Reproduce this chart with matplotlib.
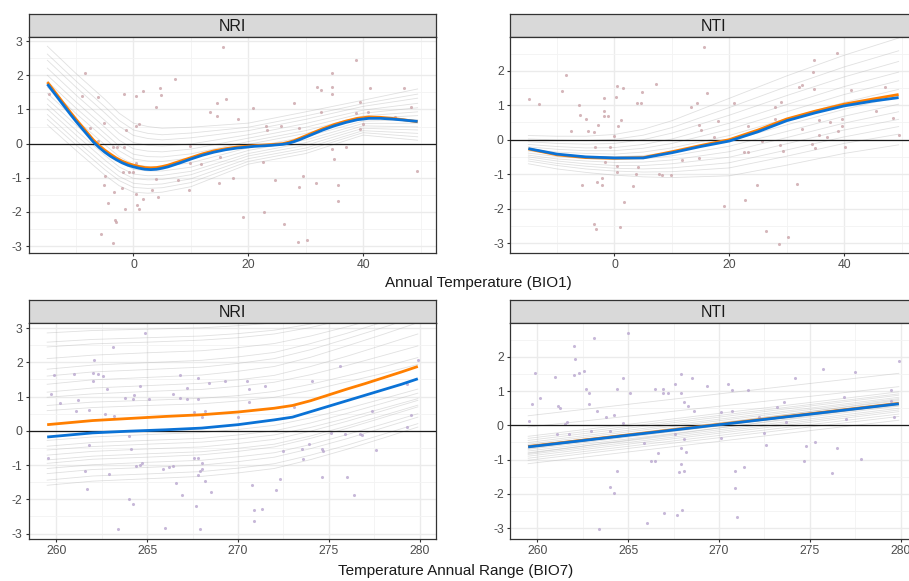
import matplotlib
matplotlib.use("Agg")
import matplotlib.pyplot as plt

plt.rcParams["font.family"] = ["Liberation Sans", "DejaVu Sans"]

# ---- scatter points (x, y) ----
nri_bio1_pts = [
    (-14.8, 1.45), (-8.4, 2.07), (-9.0, 1.38), (-7.5, 0.46), (-6.2, 1.36), (-6.1, 0.08),
    (-5.1, 0.59), (-4.9, -0.94), (-5.2, -1.21), (-4.5, -1.75), (-5.7, -2.65), (-3.5, -2.9),
    (-3.2, -2.24), (-3.1, -2.29), (-3.4, -1.42), (-3.5, -0.1), (-2.8, -0.1), (-1.7, 1.46),
    (-1.3, 0.39), (-1.7, -0.09), (-2.0, -1.31), (-1.8, -0.82), (-1.5, -1.9), (-1.7, -0.55),
    (-0.7, -0.82), (0.0, -0.82), (0.4, 0.51), (0.4, 1.39), (1.0, 0.56), (1.6, 1.54),
    (0.5, -0.58), (0.4, -1.46), (0.7, -1.8), (1.0, -1.91), (1.7, -1.62), (3.9, 1.07),
    (4.6, 1.62), (4.8, 1.42), (3.9, -1.04), (4.2, -1.56), (3.3, -1.36), (7.3, 1.89),
    (7.8, -1.07), (9.9, -0.06), (9.7, -1.37), (9.8, -0.56), (11.8, -0.6), (13.4, 0.94),
    (14.5, 0.81), (14.6, 1.18), (16.2, 1.3), (15.6, 2.83), (15.0, -0.4), (14.9, -1.14),
    (17.3, -1.02), (18.2, 0.71), (19.0, -2.14), (20.9, 1.05), (22.7, -2.01), (22.5, -0.55),
    (23.1, 0.52), (23.2, 0.39), (24.7, -1.05), (25.7, 0.53), (26.3, -2.34), (27.9, 1.2),
    (28.9, 0.47), (28.9, -1.28), (28.6, -2.89), (30.2, -2.82), (29.5, -0.94), (31.9, 1.66),
    (32.6, 1.56), (32.6, 0.92), (31.8, -1.14), (34.5, 2.07), (34.6, 1.67), (34.6, 1.46),
    (34.5, -0.16), (35.0, -0.44), (35.7, -1.2), (35.7, -1.69), (37.0, -0.1), (38.8, 2.44),
    (38.7, 0.91), (39.5, 1.23), (39.5, 0.42), (40.0, 0.56), (40.9, 0.93), (41.2, 1.64),
    (47.1, 1.64), (48.3, 1.08), (49.4, -0.79), (45.5, 0.79),
]
nti_bio1_pts = [
    (-14.9, 1.18), (-13.2, 1.04), (-9.1, 1.41), (-8.5, 1.87), (-7.5, 0.24), (-6.2, 1.02),
    (-6.0, 0.71), (-5.7, -1.31), (-5.0, 0.59), (-4.6, 0.24), (-3.6, 0.22), (-2.8, 0.44),
    (-3.4, -0.21), (-3.1, -1.23), (-2.1, -1.33), (-2.1, -1.11), (-1.9, 1.21), (-1.8, 0.83),
    (-1.8, 0.7), (-1.2, 0.7), (-1.6, -0.66), (-0.8, -0.21), (-3.6, -2.46), (-3.3, -2.59),
    (-0.1, 0.1), (0.2, 1.23), (0.4, 1.57), (0.5, -0.76), (0.5, -0.95), (0.6, 0.4),
    (1.1, 0.57), (1.5, 1.5), (0.9, -2.54), (1.7, -1.81), (3.3, -1.35), (3.8, -1.01),
    (4.1, -0.79), (3.9, 1.06), (4.6, 1.06), (4.8, 1.37), (7.2, 1.63), (7.8, -1.01),
    (8.2, -1.04), (9.8, -1.02), (11.8, -0.6), (13.4, 0.94), (14.4, 1.05), (14.7, 0.43),
    (15.1, 0.28), (14.8, -0.53), (15.6, 2.7), (16.2, 1.36), (17.4, 0.08), (18.1, 0.55),
    (19.1, -1.93), (20.9, 1.06), (22.6, -0.35), (23.2, 0.41), (23.2, -0.35), (22.7, -1.76),
    (24.8, -1.33), (25.7, -0.03), (26.4, -2.65), (27.9, 0.94), (27.9, 0.61), (29.0, 1.08),
    (28.9, -0.15), (29.4, -0.33), (28.6, -3.02), (30.2, -2.83), (31.8, -1.3), (32.1, 1.53),
    (32.6, 1.59), (32.6, 0.32), (34.5, 1.95), (34.7, 2.31), (34.7, 1.47), (34.4, -0.14),
    (35.0, -0.23), (35.7, 0.57), (35.7, 0.14), (37.0, 0.08), (37.6, 0.52), (38.8, 2.53),
    (39.0, 0.25), (39.6, 0.59), (39.6, 0.4), (40.1, -0.22), (41.2, 1.44), (45.5, 0.82),
    (47.1, 1.52), (48.5, 0.64), (49.6, 0.13),
]
nri_bio7_pts = [
    (259.56, -0.78), (259.7, 1.08), (259.9, 1.64), (260.2, 0.8), (261.0, 1.67), (261.1, 0.59),
    (261.2, 0.91), (261.6, -1.18), (261.7, -1.69), (261.8, -0.41), (261.8, 0.62), (262.0, 1.69),
    (262.0, 1.47), (262.1, 2.08), (262.3, 1.67), (262.6, 1.59), (262.7, 0.48), (262.8, 1.22),
    (262.9, -1.26), (263.1, 2.45), (263.2, 0.43), (263.4, -2.86), (263.8, 0.96), (264.0, -0.15),
    (264.0, -2.0), (264.1, -0.54), (264.2, 0.94), (264.2, -2.13), (264.3, 1.05), (264.4, -1.03),
    (264.6, 1.31), (264.6, -0.99), (264.7, -0.94), (264.9, 2.85), (265.1, 0.94), (265.9, -1.11),
    (266.0, -2.83), (266.2, -1.05), (266.4, 1.08), (266.4, -1.03), (266.6, -1.53), (266.8, 0.96),
    (266.8, 1.64), (266.9, -1.88), (267.2, 1.25), (267.2, 0.93), (267.6, 0.54), (267.6, -0.79),
    (267.7, -2.2), (267.8, -1.3), (267.8, 1.55), (267.8, 0.94), (267.8, -0.79), (267.9, -1.18),
    (267.9, -2.88), (268.0, 0.4), (268.0, -1.11), (268.0, -0.93), (268.2, -1.46), (268.2, 0.59),
    (268.4, 1.4), (268.5, -1.79), (269.3, 1.47), (270.0, 0.4), (270.5, 1.47), (270.6, 1.21),
    (270.6, 0.83), (270.8, -1.59), (270.9, -2.62), (270.9, -2.32), (271.3, -2.27), (271.5, 1.3),
    (272.1, -1.74), (272.3, -1.41), (272.5, -0.59), (273.1, 0.71), (273.5, -0.52), (273.6, -0.81),
    (273.9, -0.39), (274.1, 1.45), (274.6, -0.52), (274.6, -1.35), (274.7, -0.6), (275.1, -0.06),
    (275.6, 1.9), (275.9, -0.09), (276.0, -1.35), (276.4, -1.87), (276.7, -0.08), (276.8, -0.11),
    (277.4, 0.58), (277.6, -0.55), (279.3, 0.11), (279.5, 0.45), (279.9, 2.08), (279.3, 1.36),
]
nti_bio7_pts = [
    (259.54, 0.13), (259.72, 0.63), (259.9, 1.52), (260.15, 0.81), (260.98, 1.42), (261.1, -0.24),
    (261.16, 0.56), (261.27, 0.5), (261.5, 0.03), (261.64, 0.11), (261.77, -0.26), (262.0, 2.32),
    (262.0, 1.48), (262.08, 1.94), (262.3, 1.54), (262.6, 1.6), (262.7, 1.07), (262.86, 0.94),
    (262.86, 0.61), (262.94, -0.16), (263.1, 2.54), (263.27, 0.41), (263.4, -3.04), (263.8, 0.23),
    (264.0, -1.79), (264.0, -0.16), (264.2, 0.31), (264.2, -1.97), (264.4, 1.06), (264.4, -1.34),
    (264.7, 1.37), (264.7, 0.07), (264.97, 2.7), (265.1, 0.95), (265.9, -0.53), (266.06, -2.86),
    (266.25, -1.05), (266.5, 1.05), (266.5, -1.05), (266.67, -0.82), (266.9, 1.05), (266.9, 0.94),
    (267.0, -2.57), (267.2, 0.94), (267.6, 1.22), (267.6, -0.24), (267.7, -2.61), (267.8, -1.36),
    (267.9, 1.49), (267.9, 0.94), (267.9, -1.14), (267.96, -2.48), (267.9, -0.66), (268.05, 0.68),
    (268.05, -1.34), (268.1, -0.41), (268.2, -0.77), (268.3, 0.56), (268.5, 1.39), (268.6, 0.41),
    (269.36, 1.16), (270.1, 0.39), (270.1, -0.37), (270.5, 1.2), (270.7, 1.03), (270.7, 0.43),
    (270.9, -1.83), (270.9, -1.34), (271.0, -2.68), (271.4, -1.23), (271.6, 1.04), (272.2, 0.23),
    (272.5, -0.23), (272.6, -0.58), (273.2, 0.55), (273.6, 0.68), (273.7, 0.1), (274.2, 1.39),
    (274.7, -1.05), (274.8, -0.6), (275.27, -0.5), (275.7, 1.64), (276.2, -1.38), (276.5, -0.65),
    (276.9, 0.82), (277.0, 0.2), (277.5, 1.57), (277.8, -0.97), (279.45, 1.02), (279.45, 0.7),
    (279.65, 0.23), (279.9, 1.89),
]

# ---- mean curves (orange / blue) ----
nri_bio1_cx = [-15, -13, -11, -10, -9, -8, -7, -6, -5, -4, -3, -2, -1, 0, 1, 2, 3, 4, 5, 6,
               8, 10, 12, 14, 16, 18, 21, 24, 26, 27, 28, 29, 31, 33, 35, 37, 39, 41, 43,
               45, 47, 49.5]
nri_bio1_blue = [1.74, 1.3, 0.86, 0.65, 0.45, 0.25, 0.05, -0.11, -0.25, -0.37, -0.47, -0.56,
                 -0.63, -0.68, -0.72, -0.75, -0.76, -0.75, -0.72, -0.68, -0.57, -0.45, -0.34,
                 -0.25, -0.18, -0.13, -0.08, -0.05, -0.02, 0.01, 0.06, 0.12, 0.26, 0.4, 0.52,
                 0.62, 0.7, 0.74, 0.74, 0.72, 0.69, 0.65]
nri_bio1_orange = [1.8, 1.36, 0.92, 0.71, 0.51, 0.31, 0.11, -0.05, -0.19, -0.31, -0.42, -0.51,
                   -0.58, -0.63, -0.67, -0.7, -0.71, -0.7, -0.67, -0.63, -0.52, -0.41, -0.3,
                   -0.21, -0.15, -0.1, -0.06, -0.03, 0.0, 0.04, 0.09, 0.16, 0.3, 0.44, 0.56,
                   0.66, 0.74, 0.78, 0.77, 0.74, 0.7, 0.64]

nti_bio1_cx = [-15, -10, -5, 0, 5, 10, 15, 20, 25, 30, 35, 40, 45, 49.5]
nti_bio1_blue = [-0.26, -0.42, -0.5, -0.53, -0.53, -0.38, -0.2, -0.04, 0.23, 0.55, 0.78, 0.98, 1.12, 1.22]
nti_bio1_orange = [-0.27, -0.44, -0.52, -0.54, -0.52, -0.35, -0.17, 0.0, 0.28, 0.6, 0.83, 1.03, 1.18, 1.31]

nri_bio7_cx = [259.5, 262, 264, 266, 268, 270, 272, 273, 274, 275, 276, 277, 278, 279, 279.9]
nri_bio7_blue = [-0.18, -0.06, -0.01, 0.03, 0.08, 0.18, 0.32, 0.4, 0.56, 0.72, 0.88, 1.04, 1.2, 1.36, 1.52]
nri_bio7_orange = [0.18, 0.3, 0.36, 0.42, 0.47, 0.55, 0.66, 0.74, 0.88, 1.05, 1.22, 1.38, 1.55, 1.72, 1.88]

nti_bio7_cx = [259.5, 279.9]
nti_bio7_blue = [-0.63, 0.63]
nti_bio7_orange = [-0.62, 0.64]

# ---- grey posterior draws ----
nri_bio1_gx = [-15, -10, -5, -2.5, 0, 2.5, 5, 10, 20, 30, 40, 49.5]
nri_bio1_draws = [
    [2.85, 2.05, 1.3, 0.89, 0.6, 0.5, 0.45, 0.48, 0.6, 0.93, 1.27, 1.6],
    [2.62, 1.83, 1.08, 0.68, 0.4, 0.3, 0.26, 0.31, 0.48, 0.81, 1.17, 1.45],
    [2.44, 1.65, 0.9, 0.51, 0.24, 0.15, 0.11, 0.17, 0.38, 0.71, 1.09, 1.33],
    [2.21, 1.42, 0.68, 0.3, 0.03, -0.05, -0.07, -0.01, 0.26, 0.59, 0.98, 1.18],
    [2.0, 1.22, 0.48, 0.1, -0.15, -0.22, -0.24, -0.16, 0.16, 0.48, 0.89, 1.05],
    [1.82, 1.04, 0.3, -0.07, -0.31, -0.38, -0.39, -0.3, 0.06, 0.38, 0.81, 0.93],
    [1.65, 0.88, 0.15, -0.21, -0.45, -0.51, -0.52, -0.42, -0.02, 0.3, 0.74, 0.82],
    [1.47, 0.7, -0.03, -0.38, -0.61, -0.67, -0.67, -0.56, -0.12, 0.2, 0.66, 0.7],
    [1.31, 0.54, -0.19, -0.53, -0.75, -0.8, -0.8, -0.69, -0.2, 0.11, 0.59, 0.6],
    [1.15, 0.39, -0.34, -0.68, -0.89, -0.94, -0.93, -0.81, -0.29, 0.03, 0.52, 0.49],
    [1.01, 0.25, -0.48, -0.81, -1.02, -1.06, -1.05, -0.91, -0.36, -0.05, 0.45, 0.4],
    [0.85, 0.09, -0.63, -0.96, -1.16, -1.2, -1.18, -1.03, -0.44, -0.13, 0.38, 0.3],
    [0.71, -0.04, -0.76, -1.08, -1.28, -1.31, -1.29, -1.14, -0.52, -0.2, 0.32, 0.2],
    [0.55, -0.2, -0.92, -1.23, -1.42, -1.45, -1.42, -1.26, -0.6, -0.29, 0.25, 0.1],
]
nti_bio1_gx = [-15, -10, -5, 0, 5, 10, 20, 30, 40, 49.5]
nti_bio1_draws = [
    [0.12, 0.1, 0.1, 0.15, 0.3, 0.55, 1.2, 1.85, 2.45, 2.95],
    [0.02, -0.01, -0.03, 0.01, 0.13, 0.35, 0.93, 1.54, 2.11, 2.58],
    [-0.06, -0.11, -0.13, -0.11, 0.0, 0.19, 0.71, 1.28, 1.82, 2.27],
    [-0.14, -0.2, -0.24, -0.23, -0.14, 0.02, 0.48, 1.02, 1.54, 1.96],
    [-0.21, -0.28, -0.32, -0.32, -0.25, -0.11, 0.3, 0.81, 1.31, 1.71],
    [-0.27, -0.36, -0.4, -0.42, -0.36, -0.24, 0.12, 0.61, 1.08, 1.46],
    [-0.33, -0.42, -0.48, -0.5, -0.46, -0.36, -0.04, 0.43, 0.88, 1.25],
    [-0.39, -0.49, -0.55, -0.58, -0.56, -0.47, -0.19, 0.24, 0.68, 1.03],
    [-0.45, -0.56, -0.62, -0.66, -0.65, -0.59, -0.35, 0.06, 0.48, 0.81],
    [-0.5, -0.62, -0.7, -0.75, -0.75, -0.7, -0.51, -0.12, 0.28, 0.59],
    [-0.56, -0.69, -0.77, -0.83, -0.85, -0.82, -0.67, -0.3, 0.08, 0.38],
    [-0.62, -0.75, -0.85, -0.91, -0.94, -0.93, -0.82, -0.48, -0.11, 0.16],
    [-0.7, -0.85, -0.95, -1.03, -1.08, -1.1, -1.05, -0.74, -0.4, -0.15],
]
bio7_gx = [259.5, 262, 265, 268, 270, 272, 274, 276, 278, 279.9]
nri_bio7_draws = [
    [2.86, 2.93, 2.97, 3.01, 3.07, 3.15, 3.3, 3.48, 3.67, 3.86],
    [2.59, 2.67, 2.72, 2.77, 2.84, 2.94, 3.12, 3.33, 3.56, 3.79],
    [2.45, 2.54, 2.59, 2.65, 2.72, 2.83, 3.02, 3.26, 3.5, 3.75],
    [2.11, 2.21, 2.28, 2.34, 2.43, 2.55, 2.77, 3.04, 3.33, 3.61],
    [1.8, 1.92, 1.99, 2.06, 2.16, 2.29, 2.55, 2.85, 3.18, 3.5],
    [1.6, 1.72, 1.79, 1.86, 1.97, 2.11, 2.37, 2.69, 3.02, 3.35],
    [1.36, 1.49, 1.56, 1.63, 1.74, 1.88, 2.15, 2.48, 2.82, 3.16],
    [1.13, 1.25, 1.32, 1.39, 1.49, 1.62, 1.88, 2.18, 2.51, 2.83],
    [0.98, 1.08, 1.15, 1.21, 1.3, 1.42, 1.64, 1.91, 2.2, 2.48],
    [0.74, 0.84, 0.89, 0.95, 1.03, 1.15, 1.36, 1.61, 1.87, 2.14],
    [0.59, 0.68, 0.74, 0.79, 0.87, 0.98, 1.18, 1.43, 1.68, 1.94],
    [-0.28, -0.18, -0.11, -0.05, 0.04, 0.16, 0.38, 0.65, 0.94, 1.22],
    [-0.45, -0.34, -0.28, -0.22, -0.12, 0.0, 0.23, 0.51, 0.81, 1.1],
    [-0.56, -0.46, -0.39, -0.33, -0.24, -0.12, 0.1, 0.37, 0.66, 0.94],
    [-0.71, -0.6, -0.53, -0.47, -0.37, -0.25, -0.01, 0.28, 0.59, 0.89],
    [-0.85, -0.74, -0.67, -0.61, -0.51, -0.39, -0.15, 0.14, 0.45, 0.75],
    [-0.95, -0.83, -0.77, -0.7, -0.6, -0.47, -0.22, 0.07, 0.39, 0.7],
    [-1.1, -0.99, -0.92, -0.86, -0.76, -0.64, -0.4, -0.11, 0.2, 0.5],
    [-1.25, -1.13, -1.07, -1.0, -0.9, -0.77, -0.52, -0.23, 0.09, 0.4],
    [-1.44, -1.32, -1.26, -1.19, -1.09, -0.96, -0.71, -0.42, -0.1, 0.21],
    [-1.59, -1.47, -1.4, -1.33, -1.23, -1.1, -0.84, -0.54, -0.21, 0.11],
]
nti_bio7_gx = [259.5, 279.9]
nti_bio7_draws = [
    [0.28, 1.52], [-0.05, 1.13], [-0.32, 0.98], [-0.38, 0.92], [-0.44, 0.88],
    [-0.5, 0.82], [-0.55, 0.78], [-0.6, 0.72], [-0.65, 0.68], [-0.7, 0.62],
    [-0.75, 0.56], [-0.8, 0.5], [-0.85, 0.45], [-0.9, 0.4], [-0.96, 0.33],
    [-1.02, 0.26], [-1.12, 0.15], [-0.68, 0.75], [-0.58, 0.58], [-0.82, 0.62],
]

ORANGE = "#ff7f00"
BLUE = "#0a72d6"
EDGE = "#333333"

W, H = 909, 581
fig = plt.figure(figsize=(W / 100, H / 100), dpi=100)


def panel(px_left, px_top, title, pts, pt_color, gx, draws, cx, orange, blue,
          xlim, ylim, xticks, xminor, yticks, yminor):
    # strip: 23 px tall starting at px_top; plot area below it, 407 x 216 px
    sax = fig.add_axes([px_left / W, 1 - (px_top + 23) / H, 407 / W, 23 / H])
    ax = fig.add_axes([px_left / W, 1 - (px_top + 23 + 216) / H, 407 / W, 216 / H])
    sax.set_facecolor("#d9d9d9")
    sax.set_xticks([])
    sax.set_yticks([])
    for s in sax.spines.values():
        s.set_color(EDGE)
        s.set_linewidth(0.9)
    sax.text(0.5, 0.47, title, ha="center", va="center", fontsize=11.5, color="#1a1a1a")

    for d in draws:
        ax.plot(gx, d, color="#a8a8a8", lw=0.6, alpha=0.35, zorder=2)
    ax.scatter([p[0] for p in pts], [p[1] for p in pts], s=5, color=pt_color,
               alpha=0.75, lw=0, zorder=3)
    ax.axhline(0, color="#1a1a1a", lw=0.9, zorder=4)
    ax.plot(cx, orange, color=ORANGE, lw=2.0, zorder=5, solid_capstyle="butt")
    ax.plot(cx, blue, color=BLUE, lw=2.0, zorder=6, solid_capstyle="butt")

    ax.set_xlim(*xlim)
    ax.set_ylim(*ylim)
    ax.set_xticks(xticks)
    ax.set_xticks(xminor, minor=True)
    ax.set_yticks(yticks)
    ax.set_yticks(yminor, minor=True)
    ax.set_yticklabels([str(t) for t in yticks])
    ax.set_axisbelow(True)
    ax.grid(which="major", color="#ebebeb", lw=1.0)
    ax.grid(which="minor", color="#f3f3f3", lw=0.6)
    ax.tick_params(which="major", length=2.5, width=0.8, color=EDGE,
                   labelcolor="#4d4d4d", labelsize=8.7, pad=2)
    ax.tick_params(which="minor", length=0)
    for s in ax.spines.values():
        s.set_color(EDGE)
        s.set_linewidth(0.9)
    return ax


yminor_a = [-2.5, -1.5, -0.5, 0.5, 1.5, 2.5]
panel(29, 14, "NRI", nri_bio1_pts, "#c79ea3", nri_bio1_gx, nri_bio1_draws,
      nri_bio1_cx, nri_bio1_orange, nri_bio1_blue,
      (-18.2, 52.7), (-3.2, 3.12), [0, 20, 40], [-10, 10, 30, 50],
      [-3, -2, -1, 0, 1, 2, 3], yminor_a)
panel(510, 14, "NTI", nti_bio1_pts, "#c79ea3", nti_bio1_gx, nti_bio1_draws,
      nti_bio1_cx, nti_bio1_orange, nti_bio1_blue,
      (-18.2, 52.7), (-3.29, 2.98), [0, 20, 40], [-10, 10, 30, 50],
      [-3, -2, -1, 0, 1, 2], yminor_a)
panel(29, 300, "NRI", nri_bio7_pts, "#b5a1cc", bio7_gx, nri_bio7_draws,
      nri_bio7_cx, nri_bio7_orange, nri_bio7_blue,
      (258.5, 280.9), (-3.16, 3.15), [260, 265, 270, 275, 280],
      [262.5, 267.5, 272.5, 277.5], [-3, -2, -1, 0, 1, 2, 3], yminor_a)
panel(510, 300, "NTI", nti_bio7_pts, "#b5a1cc", nti_bio7_gx, nti_bio7_draws,
      nti_bio7_cx, nti_bio7_orange, nti_bio7_blue,
      (258.5, 280.9), (-3.32, 2.99), [260, 265, 270, 275, 280],
      [262.5, 267.5, 272.5, 277.5], [-3, -2, -1, 0, 1, 2], yminor_a)

fig.text(478 / W, 1 - 283 / H, "Annual Temperature (BIO1)", ha="center", va="center",
         fontsize=11, color="#1a1a1a")
fig.text(456 / W, 1 - 571 / H, "Temperature Annual Range (BIO7)", ha="center", va="center",
         fontsize=11, color="#1a1a1a")

fig.savefig("out.png", dpi=100)
